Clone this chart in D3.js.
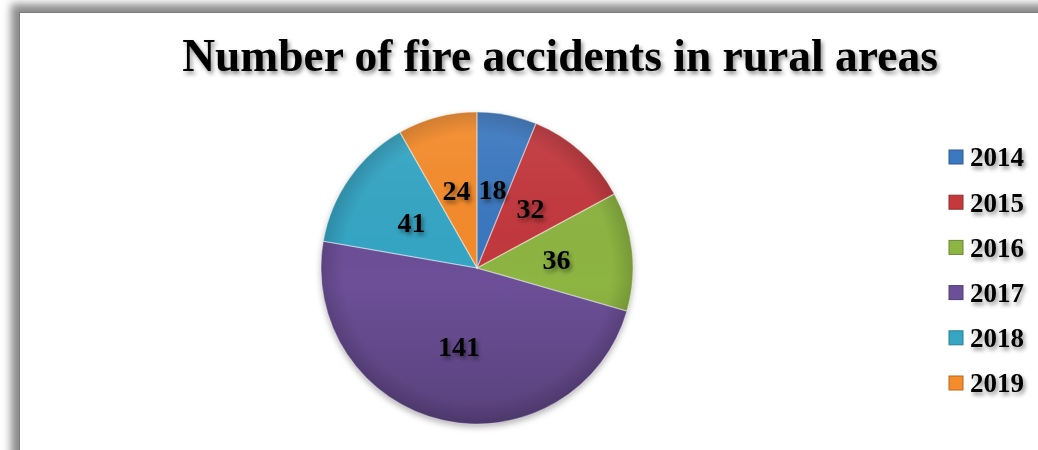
<!DOCTYPE html>
<html>
<head>
<meta charset="utf-8">
<script src="https://cdn.jsdelivr.net/npm/d3@7"></script>
<style>
  body { margin: 0; background: #fff; }
  svg { display: block; }
</style>
</head>
<body>
<svg id="chart" width="1038" height="450"></svg>
<script>
// data
const years = ["2014", "2015", "2016", "2017", "2018", "2019"];
const accidents = [18, 32, 36, 141, 41, 24];
const colors = ["#3b78c0", "#c3393c", "#8db543", "#6c5097", "#36a6c5", "#f58b2b"];
const chartTitle = "Number of fire accidents in rural areas";

const svg = d3.select("#chart");
const defs = svg.append("defs");

// frame shadow (top and left side)
const frameBlur = defs.append("filter").attr("id", "frameBlur")
    .attr("x", "-10%").attr("y", "-10%").attr("width", "120%").attr("height", "120%");
frameBlur.append("feGaussianBlur").attr("stdDeviation", 4);

// soft text shadow
const txtShadow = defs.append("filter").attr("id", "txtShadow")
    .attr("x", "-20%").attr("y", "-30%").attr("width", "140%").attr("height", "160%");
txtShadow.append("feDropShadow").attr("dx", 2).attr("dy", 3)
    .attr("stdDeviation", 2).attr("flood-color", "#000").attr("flood-opacity", 0.45);

// shadow under the pie
const pieShadow = defs.append("filter").attr("id", "pieShadow")
    .attr("x", "-20%").attr("y", "-20%").attr("width", "140%").attr("height", "140%");
pieShadow.append("feDropShadow").attr("dx", 0).attr("dy", 3)
    .attr("stdDeviation", 3).attr("flood-color", "#000").attr("flood-opacity", 0.3);

// shading over the pie (light on top, darker at bottom)
const shade = defs.append("linearGradient").attr("id", "shade")
    .attr("x1", 0).attr("y1", 0).attr("x2", 0).attr("y2", 1);
shade.append("stop").attr("offset", "0%").attr("stop-color", "#fff").attr("stop-opacity", 0.08);
shade.append("stop").attr("offset", "55%").attr("stop-color", "#000").attr("stop-opacity", 0);
shade.append("stop").attr("offset", "100%").attr("stop-color", "#000").attr("stop-opacity", 0.18);

const rim = defs.append("radialGradient").attr("id", "rim");
rim.append("stop").attr("offset", "86%").attr("stop-color", "#000").attr("stop-opacity", 0);
rim.append("stop").attr("offset", "100%").attr("stop-color", "#000").attr("stop-opacity", 0.15);

// chart area frame
svg.append("rect")
    .attr("x", 11).attr("y", 4).attr("width", 1200).attr("height", 600)
    .attr("fill", "#8a8a8a").attr("filter", "url(#frameBlur)");
svg.append("rect")
    .attr("x", 19.5).attr("y", 12.5).attr("width", 1200).attr("height", 600)
    .attr("fill", "#fff").attr("stroke", "#7a7a7a").attr("stroke-width", 1);

// title
svg.append("text")
    .attr("x", 560).attr("y", 71)
    .attr("text-anchor", "middle")
    .attr("font-family", "'Liberation Serif', 'Times New Roman', serif")
    .attr("font-weight", "bold")
    .attr("font-size", 45.5)
    .attr("fill", "#000")
    .attr("filter", "url(#txtShadow)")
    .text(chartTitle);

// pie
const cx = 477, cy = 268, radius = 156;
const color = d3.scaleOrdinal().domain(years).range(colors);

const pie = d3.pie().sort(null).value(d => d.value);
const slices = pie(years.map((y, i) => ({ year: y, value: accidents[i] })));

const arc = d3.arc().innerRadius(0).outerRadius(radius);
const labelArc = d3.arc().innerRadius(80).outerRadius(80);

const g = svg.append("g").attr("transform", `translate(${cx},${cy})`);
const pieG = g.append("g").attr("filter", "url(#pieShadow)");

pieG.selectAll("path.slice")
    .data(slices)
    .join("path")
    .attr("class", "slice")
    .attr("d", arc)
    .attr("fill", d => color(d.data.year));

// overlays for a bit of the bevel look
g.append("circle").attr("r", radius).attr("fill", "url(#shade)");
g.append("circle").attr("r", radius).attr("fill", "url(#rim)");

g.selectAll("path.edge")
    .data(slices)
    .join("path")
    .attr("class", "edge")
    .attr("d", arc)
    .attr("fill", "none")
    .attr("stroke", "rgba(255,255,255,0.35)")
    .attr("stroke-width", 1.2);

// data labels
g.selectAll("text.lbl")
    .data(slices)
    .join("text")
    .attr("class", "lbl")
    .attr("transform", d => `translate(${labelArc.centroid(d)})`)
    .attr("text-anchor", "middle")
    .attr("dy", "0.35em")
    .attr("font-family", "'Liberation Serif', 'Times New Roman', serif")
    .attr("font-weight", "bold")
    .attr("font-size", 28)
    .attr("fill", "#000")
    .attr("filter", "url(#txtShadow)")
    .text(d => d.data.value);

// legend
const legend = svg.append("g").attr("transform", "translate(949,157)");
const rowH = 45.2;
const item = legend.selectAll("g.item")
    .data(years)
    .join("g")
    .attr("class", "item")
    .attr("transform", (d, i) => `translate(0,${i * rowH})`);

item.append("rect")
    .attr("x", 0).attr("y", -7)
    .attr("width", 14).attr("height", 14)
    .attr("fill", d => color(d))
    .attr("stroke", d => d3.color(color(d)).darker(0.8))
    .attr("stroke-width", 1);

item.append("text")
    .attr("x", 21)
    .attr("dy", "0.35em")
    .attr("font-family", "'Liberation Serif', 'Times New Roman', serif")
    .attr("font-weight", "bold")
    .attr("font-size", 27)
    .attr("fill", "#000")
    .attr("filter", "url(#txtShadow)")
    .text(d => d);
</script>
</body>
</html>
